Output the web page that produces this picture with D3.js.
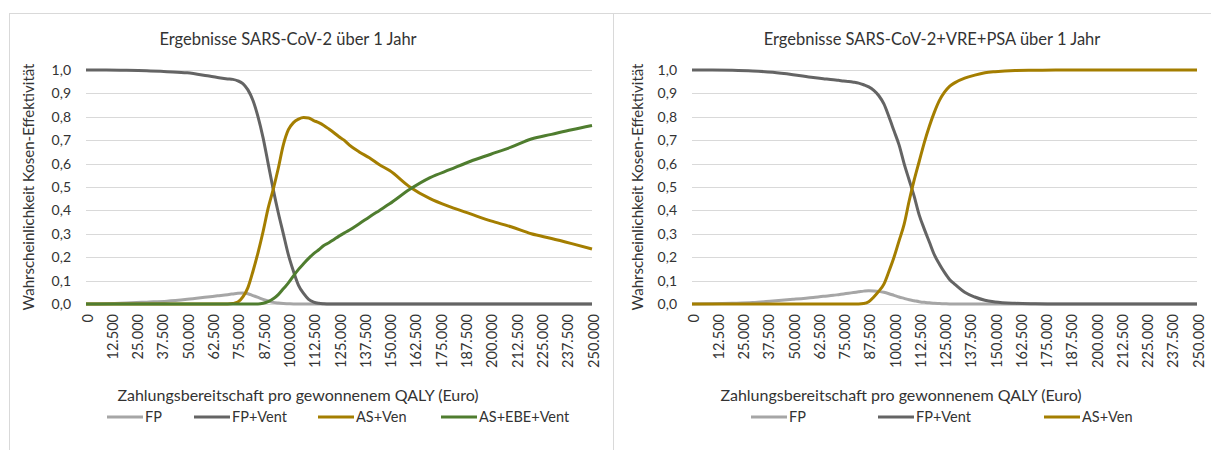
<!DOCTYPE html>
<html lang="de">
  <head>
    <meta charset="UTF-8" />
    <title>Kosten-Effektivität</title>
    <script src="https://d3js.org/d3.v7.min.js"></script>
    <style>
      body { margin: 0; background: #fff; }
      svg text { font-family: Lato, "Open Sans", sans-serif; fill: #333; }
    </style>
  </head>
  <body>
    <div id="chart"></div>
    <script>
      const wtp = [0, 10000, 20000, 30000, 40000, 50000, 60000, 65000,
        70000, 72500, 75000, 77500, 80000, 82500, 85000, 87500, 90000, 92500,
        95000, 97500, 100000, 102500, 105000, 107500, 110000, 112500, 115000, 117500,
        120000, 122500, 125000, 127500, 130000,
        135000, 140000, 145000, 150000,
        160000, 170000, 180000, 190000, 200000, 210000, 220000, 230000, 240000, 250000];

      // links: SARS-CoV-2
      const leftFP = [0, 0.001, 0.004, 0.008, 0.012, 0.02, 0.03, 0.035,
        0.04, 0.043, 0.046, 0.047, 0.044, 0.036, 0.028, 0.02, 0.013, 0.007,
        0.004, 0.002, 0.001, 0, 0, 0, 0, 0, 0, 0,
        0, 0, 0, 0, 0,
        0, 0, 0, 0,
        0, 0, 0, 0, 0, 0, 0, 0, 0, 0];
      const leftFPVent = [1, 1, 0.999, 0.997, 0.993, 0.988, 0.975, 0.968,
        0.962, 0.96, 0.954, 0.942, 0.915, 0.87, 0.8, 0.71, 0.6, 0.49,
        0.39, 0.3, 0.21, 0.14, 0.08, 0.045, 0.02, 0.008, 0.003, 0.001,
        0, 0, 0, 0, 0,
        0, 0, 0, 0,
        0, 0, 0, 0, 0, 0, 0, 0, 0, 0];
      const leftASVen = [0, 0, 0, 0, 0, 0, 0, 0,
        0, 0.002, 0.008, 0.03, 0.07, 0.14, 0.22, 0.31, 0.41, 0.49,
        0.58, 0.68, 0.745, 0.775, 0.79, 0.797, 0.795, 0.784, 0.775, 0.763,
        0.748, 0.732, 0.715, 0.7, 0.68,
        0.65, 0.625, 0.595, 0.57,
        0.5, 0.45, 0.415, 0.385, 0.355, 0.33, 0.3, 0.28, 0.258, 0.235];
      const leftASEBEVent = [0, 0, 0, 0, 0, 0, 0, 0,
        0, 0, 0, 0, 0, 0, 0, 0.003, 0.01, 0.022,
        0.04, 0.065, 0.09, 0.12, 0.148, 0.172, 0.195, 0.215, 0.232, 0.25,
        0.262, 0.276, 0.29, 0.303, 0.315,
        0.343, 0.372, 0.4, 0.428,
        0.49, 0.54, 0.575, 0.61, 0.64, 0.67, 0.705, 0.725, 0.745, 0.763];

      // rechts: SARS-CoV-2+VRE+PSA
      const rightFP = [0, 0.001, 0.003, 0.006, 0.013, 0.02, 0.028, 0.033,
        0.037, 0.04, 0.043, 0.046, 0.049, 0.052, 0.055, 0.057, 0.056, 0.054,
        0.05, 0.044, 0.037, 0.03, 0.024, 0.018, 0.014, 0.01, 0.007, 0.005,
        0.003, 0.002, 0.001, 0, 0,
        0, 0, 0, 0,
        0, 0, 0, 0, 0, 0, 0, 0, 0, 0];
      const rightFPVent = [1, 1, 0.999, 0.996, 0.99, 0.98, 0.968, 0.963,
        0.958, 0.956, 0.953, 0.951, 0.948, 0.944, 0.937, 0.928, 0.913, 0.89,
        0.855, 0.8, 0.74, 0.68, 0.6, 0.53, 0.46, 0.38, 0.32, 0.265,
        0.21, 0.17, 0.135, 0.105, 0.085,
        0.05, 0.03, 0.016, 0.009,
        0.003, 0.001, 0, 0, 0, 0, 0, 0, 0, 0];
      const rightASVen = [0, 0, 0, 0, 0, 0, 0, 0,
        0, 0, 0, 0, 0, 0, 0.002, 0.01, 0.03, 0.055,
        0.085, 0.14, 0.2, 0.27, 0.34, 0.44, 0.53, 0.61, 0.69, 0.76,
        0.82, 0.87, 0.905, 0.93, 0.945,
        0.965, 0.978, 0.988, 0.993,
        0.998, 0.999, 1, 1, 1, 1, 1, 1, 1, 1];

      const xTicks = [0, 12500, 25000, 37500, 50000, 62500, 75000, 87500, 100000,
        112500, 125000, 137500, 150000, 162500, 175000, 187500, 200000,
        212500, 225000, 237500, 250000];
      const yTicks = [0, 0.1, 0.2, 0.3, 0.4, 0.5, 0.6, 0.7, 0.8, 0.9, 1.0];

      const colors = {
        "FP": "#a6a6a6",
        "FP+Vent": "#646464",
        "AS+Ven": "#a47e00",
        "AS+EBE+Vent": "#4f7d2f",
      };

      const width = 1211, height = 450;
      const svg = d3.select("#chart").append("svg")
        .attr("width", width)
        .attr("height", height);
      svg.append("rect").attr("width", width).attr("height", height).attr("fill", "#fff");

      const de = d3.formatLocale({ decimal: ",", thousands: ".", grouping: [3], currency: ["", " €"] });
      const fmtX = de.format(",d");
      const fmtY = de.format(".1f");

      function drawChart(opt) {
        const g = svg.append("g");

        // Rahmen
        g.append("rect")
          .attr("x", opt.boxX).attr("y", 13.5)
          .attr("width", opt.boxW).attr("height", 460)
          .attr("fill", "none").attr("stroke", "#d9d9d9");

        const x = d3.scaleLinear().domain([0, 250000]).range([opt.x0, opt.x1]);
        const y = d3.scaleLinear().domain([0, 1]).range([304, 70]);

        // Gitter
        g.selectAll(".grid").data(yTicks).join("line")
          .attr("x1", opt.x0).attr("x2", opt.x1)
          .attr("y1", d => Math.round(y(d)) + 0.5)
          .attr("y2", d => Math.round(y(d)) + 0.5)
          .attr("stroke", "#d9d9d9");

        g.selectAll(".ylab").data(yTicks).join("text")
          .attr("x", opt.x0 - 15).attr("y", d => y(d))
          .attr("dy", "0.35em").attr("text-anchor", "end")
          .style("font-size", "14px")
          .text(d => fmtY(d));

        g.selectAll(".xlab").data(xTicks).join("text")
          .attr("transform", d => `translate(${x(d) + 1.5},314) rotate(-90)`)
          .attr("dy", "0.35em").attr("text-anchor", "end")
          .style("font-size", "14.5px")
          .text(d => fmtX(d));

        // Titel
        g.append("text")
          .attr("x", opt.titleX).attr("y", 45)
          .attr("text-anchor", "middle")
          .style("font-size", "16.5px")
          .text(opt.title);

        g.append("text")
          .attr("x", opt.xTitleX).attr("y", 401)
          .attr("text-anchor", "middle")
          .style("font-size", "16px")
          .text("Zahlungsbereitschaft pro gewonnenem  QALY (Euro)");

        g.append("text")
          .attr("transform", `translate(${opt.yTitleX},187) rotate(-90)`)
          .attr("dy", "0.35em").attr("text-anchor", "middle")
          .style("font-size", "15px")
          .text("Wahrscheinlichkeit  Kosen-Effektivität");

        // Linien
        const line = d3.line()
          .x((d, i) => x(wtp[i]))
          .y(d => y(d))
          .curve(d3.curveMonotoneX);

        opt.series.forEach(s => {
          g.append("path")
            .datum(s.values)
            .attr("d", line)
            .attr("fill", "none")
            .attr("stroke", colors[s.name])
            .attr("stroke-width", 3)
            .attr("stroke-linejoin", "round");
        });

        // Legende
        opt.series.forEach((s, i) => {
          const lx = opt.legendX[i];
          g.append("line")
            .attr("x1", lx).attr("x2", lx + 36)
            .attr("y1", 417).attr("y2", 417)
            .attr("stroke", colors[s.name]).attr("stroke-width", 3);
          g.append("text")
            .attr("x", lx + 38).attr("y", 417)
            .attr("dy", "0.35em")
            .style("font-size", "14.5px")
            .text(s.name);
        });
      }

      drawChart({
        boxX: 9.5, boxW: 604,
        x0: 86, x1: 592,
        title: "Ergebnisse SARS-CoV-2 über 1 Jahr",
        titleX: 288, xTitleX: 298, yTitleX: 28.5,
        legendX: [107, 194, 318, 441],
        series: [
          { name: "FP", values: leftFP },
          { name: "FP+Vent", values: leftFPVent },
          { name: "AS+Ven", values: leftASVen },
          { name: "AS+EBE+Vent", values: leftASEBEVent },
        ],
      });

      drawChart({
        boxX: 613.5, boxW: 620,
        x0: 692, x1: 1197,
        title: "Ergebnisse SARS-CoV-2+VRE+PSA  über 1 Jahr",
        titleX: 932, xTitleX: 901, yTitleX: 637.5,
        legendX: [751, 878, 1044],
        series: [
          { name: "FP", values: rightFP },
          { name: "FP+Vent", values: rightFPVent },
          { name: "AS+Ven", values: rightASVen },
        ],
      });
    </script>
  </body>
</html>
